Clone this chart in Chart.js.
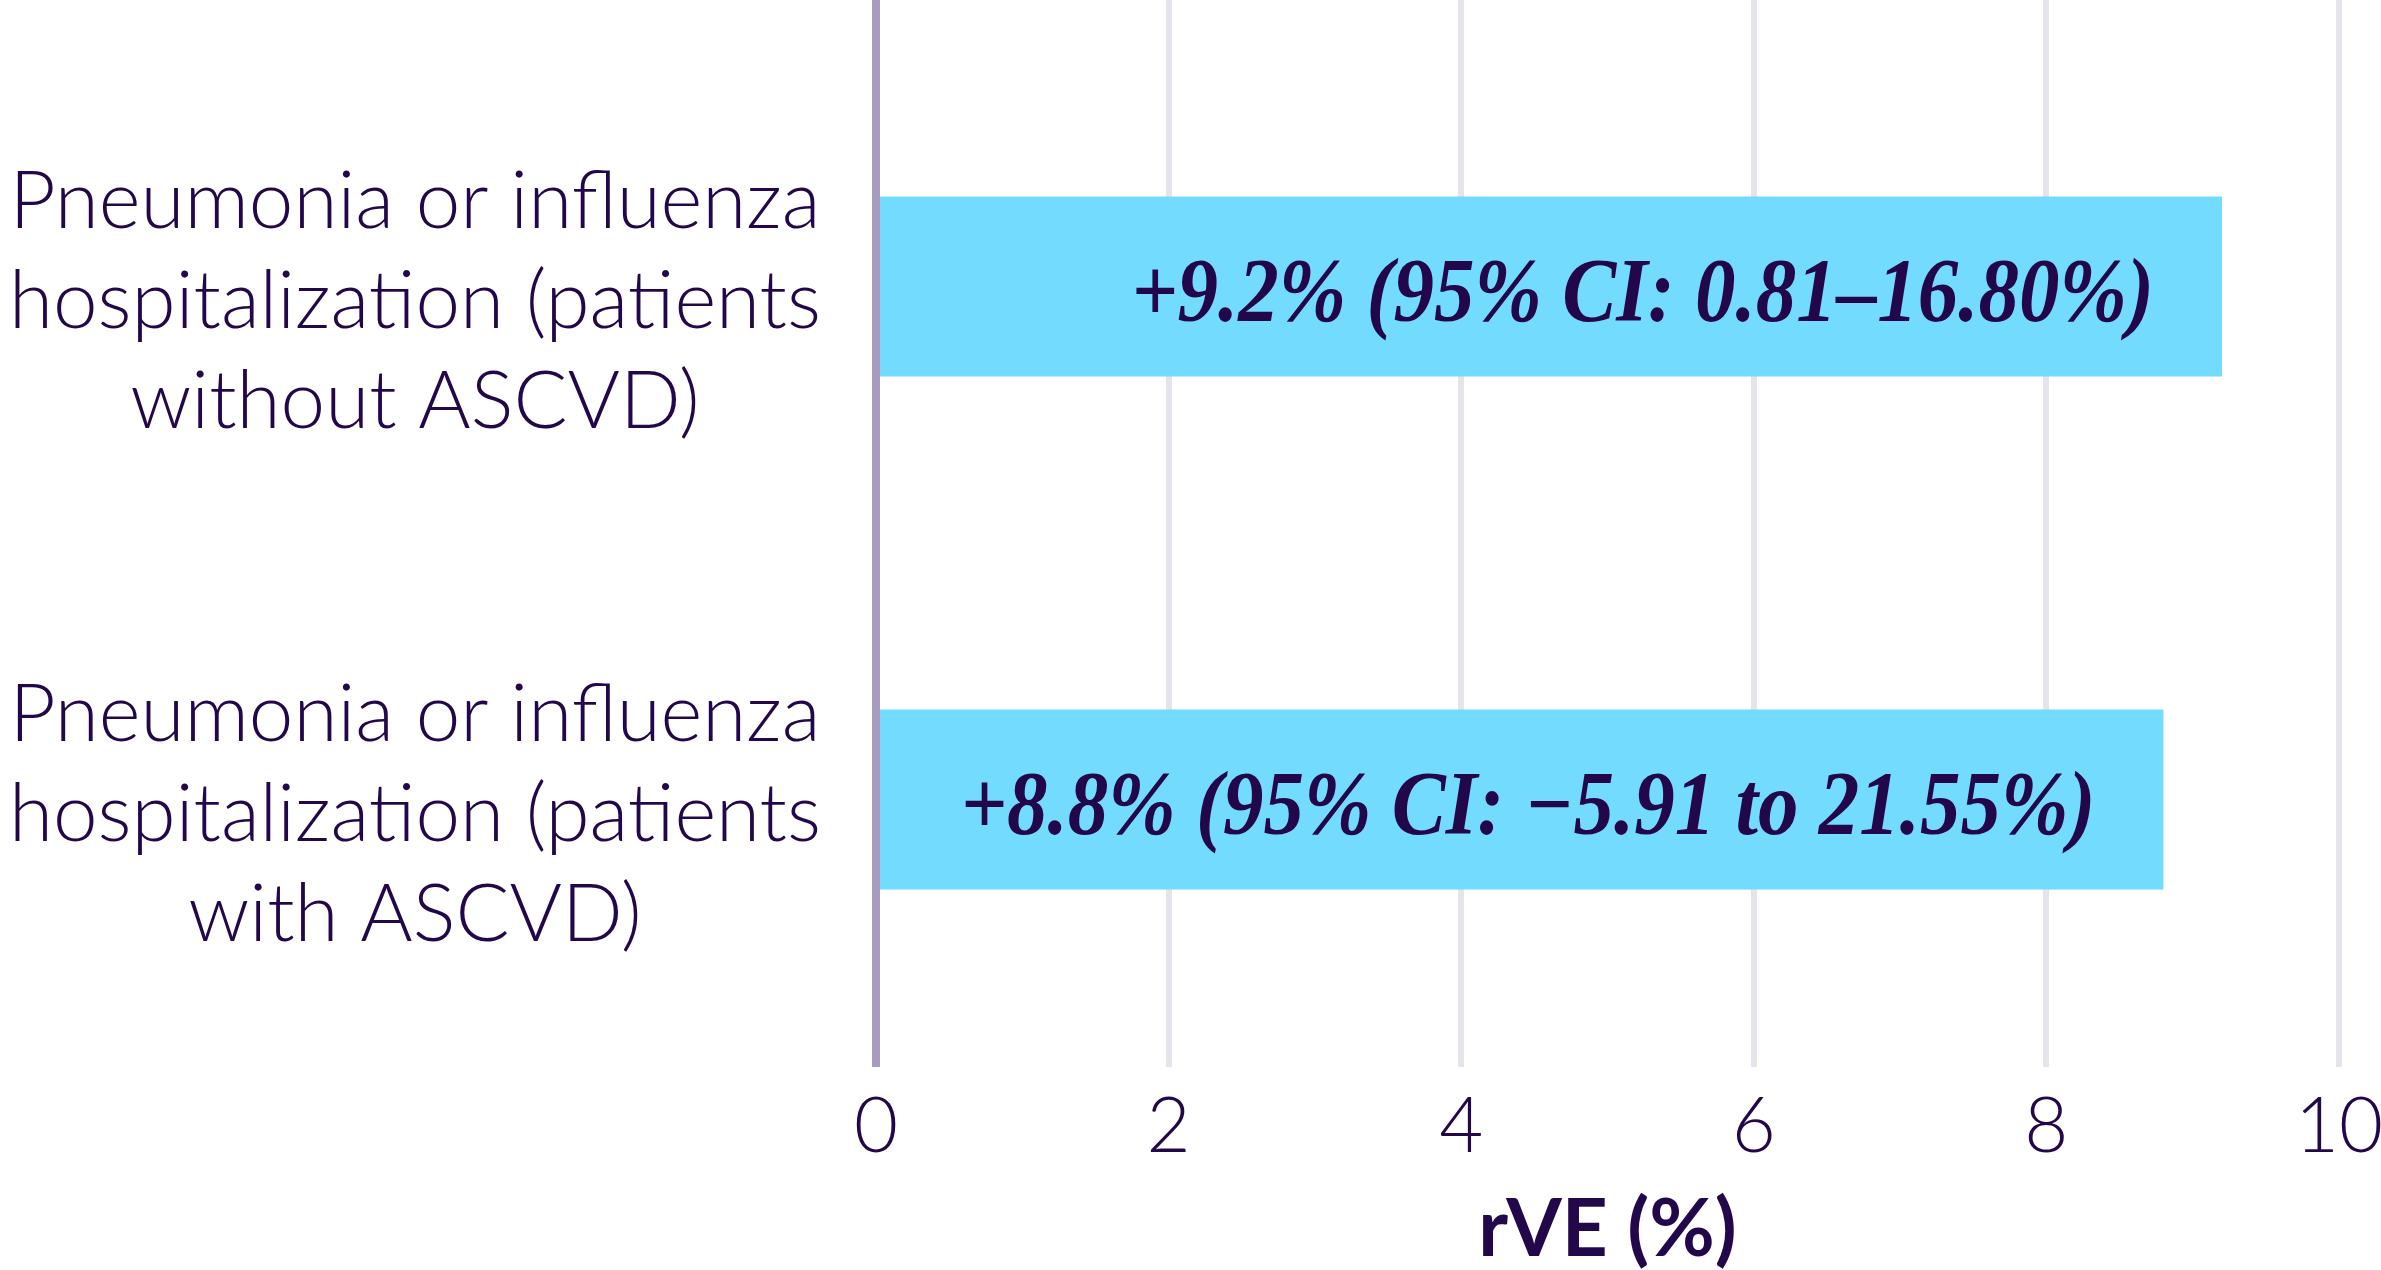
<!DOCTYPE html>
<html lang="en">
<head>
    <meta charset="UTF-8">
    <title>rVE by ASCVD status</title>
    <script src="https://cdn.jsdelivr.net/npm/chart.js"></script>
    <style>
        html, body { margin: 0; padding: 0; background: #ffffff; }
        #wrap { width: 2381px; height: 1270px; }
    </style>
</head>
<body>
    <div id="wrap"><canvas id="rveChart" width="2381" height="1270"></canvas></div>

    <script>
        // chart data
        const groups = [
            ['Pneumonia or influenza', 'hospitalization (patients', 'without ASCVD)'],
            ['Pneumonia or influenza', 'hospitalization (patients', 'with ASCVD)']
        ];
        const rveValues = [9.2, 8.8];
        const barNotes = [
            '+9.2% (95% CI: 0.81\u201316.80%)',
            '+8.8% (95% CI: \u22125.91 to 21.55%)'
        ];
        const xTicks = [0, 2, 4, 6, 8, 10];

        const ink = '#23074b';
        const gridGrey = '#e6e3ec';
        const zeroLine = '#a99bbf';
        const barBlue = '#73dcfe';

        const gridColor = ctx => (ctx.tick && ctx.tick.value === 0) ? zeroLine : gridGrey;
        const gridWidth = ctx => (ctx.tick && ctx.tick.value === 0) ? 8 : 6;

        // write the CI text inside each bar, right aligned near its end
        const barText = {
            id: 'barText',
            afterDatasetsDraw(chart) {
                const ctx = chart.ctx;
                const meta = chart.getDatasetMeta(0);
                ctx.save();
                ctx.fillStyle = ink;
                ctx.font = 'italic bold 90px "Liberation Serif"';
                ctx.textAlign = 'right';
                ctx.textBaseline = 'middle';
                meta.data.forEach((bar, i) => {
                    ctx.save();
                    ctx.translate(bar.x - 68, bar.y + 11);
                    ctx.scale(0.9, 1);
                    ctx.fillText(barNotes[i], 0, 0);
                    ctx.restore();
                });
                ctx.restore();
            }
        };

        new Chart(document.getElementById('rveChart'), {
            type: 'bar',
            data: {
                labels: groups,
                datasets: [{
                    data: rveValues,
                    backgroundColor: barBlue,
                    borderWidth: 0,
                    categoryPercentage: 1,
                    barPercentage: 0.351
                }]
            },
            options: {
                indexAxis: 'y',
                responsive: false,
                devicePixelRatio: 1,
                animation: false,
                layout: { padding: { left: 0, right: 0, top: 0, bottom: 0 } },
                plugins: {
                    legend: { display: false },
                    tooltip: { enabled: false }
                },
                scales: {
                    x: {
                        position: 'bottom',
                        min: 0,
                        max: 10,
                        afterBuildTicks: scale => { scale.ticks = xTicks.map(v => ({ value: v })); },
                        afterFit: scale => {
                            scale.paddingRight = 42;
                            scale.height = 214;
                        },
                        grid: {
                            color: gridColor,
                            tickColor: gridColor,
                            lineWidth: gridWidth,
                            tickWidth: gridWidth,
                            tickLength: 11
                        },
                        border: { display: false },
                        ticks: {
                            color: ink,
                            padding: 15,
                            font: { family: 'Lato', size: 76, weight: 300, lineHeight: 1.2 }
                        },
                        title: {
                            display: true,
                            text: 'rVE (%)',
                            color: ink,
                            font: { family: 'Lato', size: 80, weight: 'bold', lineHeight: 1.0 },
                            padding: { top: 4, bottom: 0 }
                        }
                    },
                    xTop: {
                        position: 'top',
                        axis: 'x',
                        min: 0,
                        max: 10,
                        afterBuildTicks: scale => { scale.ticks = xTicks.map(v => ({ value: v })); },
                        grid: {
                            drawOnChartArea: false,
                            color: gridColor,
                            tickColor: gridColor,
                            lineWidth: gridWidth,
                            tickWidth: gridWidth,
                            tickLength: 30
                        },
                        border: { display: false },
                        ticks: { display: false }
                    },
                    y: {
                        afterFit: scale => {
                            scale.width = 876;
                            scale.paddingTop = 0;
                            scale.paddingBottom = 0;
                        },
                        grid: { display: false, drawTicks: false },
                        border: { display: false },
                        ticks: {
                            color: ink,
                            crossAlign: 'center',
                            padding: 55,
                            labelOffset: 16,
                            font: { family: 'Lato', size: 80, weight: 300, lineHeight: 1.25 }
                        }
                    }
                }
            },
            plugins: [barText]
        });
    </script>
</body>
</html>
